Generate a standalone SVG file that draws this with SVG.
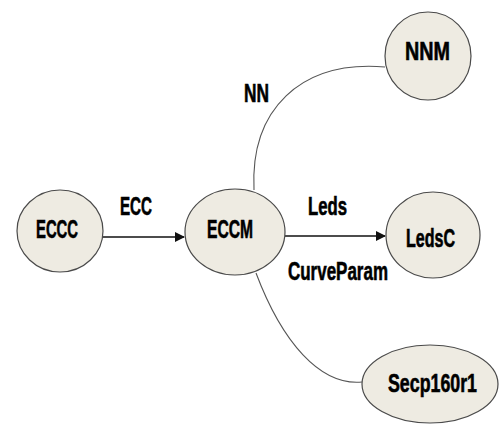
<svg xmlns="http://www.w3.org/2000/svg" width="499" height="425" viewBox="0 0 499 425">
<style>
.node ellipse{fill:#eeebe2;stroke:#4a4a4a;stroke-width:1.2}
text{font-family:"Liberation Sans",Arial,sans-serif;font-weight:bold;font-size:25px;fill:#000;stroke:#000;stroke-width:0.6}
.arrow{stroke:#111;stroke-width:1.6;fill:none}
.curve{stroke:#555;stroke-width:1.1;fill:none}
</style>
<defs>
<marker id="ah" markerWidth="10" markerHeight="10" refX="9" refY="5" orient="auto" markerUnits="userSpaceOnUse">
<path d="M0,0 L10,5 L0,10 Z" fill="#111"/>
</marker>
</defs>
<rect width="499" height="425" fill="#fff"/>
<g id="connectors">
<path class="arrow" d="M103,237 L184,237" marker-end="url(#ah)"/>
<path class="arrow" d="M285,236 L385,236" marker-end="url(#ah)"/>
<path class="curve" d="M254,190 C250,110 300,60 385,67"/>
<path class="curve" d="M256,273 C282,342 320,386 362,382"/>
<text x="120" y="215" textLength="32" lengthAdjust="spacingAndGlyphs">ECC</text>
<text x="308" y="215" textLength="39" lengthAdjust="spacingAndGlyphs">Leds</text>
<text x="244" y="102" textLength="25" lengthAdjust="spacingAndGlyphs">NN</text>
<text x="288" y="280" textLength="100" lengthAdjust="spacingAndGlyphs">CurveParam</text>
</g>
<g id="ECCC" class="node">
<ellipse cx="60" cy="231" rx="43" ry="41"/>
<text x="36" y="238" textLength="42" lengthAdjust="spacingAndGlyphs">ECCC</text>
</g>
<g id="ECCM" class="node">
<ellipse cx="235" cy="232" rx="50" ry="43"/>
<text x="207" y="238" textLength="46" lengthAdjust="spacingAndGlyphs">ECCM</text>
</g>
<g id="NNM" class="node">
<ellipse cx="428" cy="56" rx="43" ry="44"/>
<text x="405" y="60" textLength="45" lengthAdjust="spacingAndGlyphs">NNM</text>
</g>
<g id="LedsC" class="node">
<ellipse cx="433" cy="235" rx="47" ry="43"/>
<text x="406" y="247" textLength="49" lengthAdjust="spacingAndGlyphs">LedsC</text>
</g>
<g id="Secp160r1" class="node">
<ellipse cx="430" cy="384" rx="68" ry="39"/>
<text x="388" y="392" textLength="89" lengthAdjust="spacingAndGlyphs">Secp160r1</text>
</g>
</svg>
